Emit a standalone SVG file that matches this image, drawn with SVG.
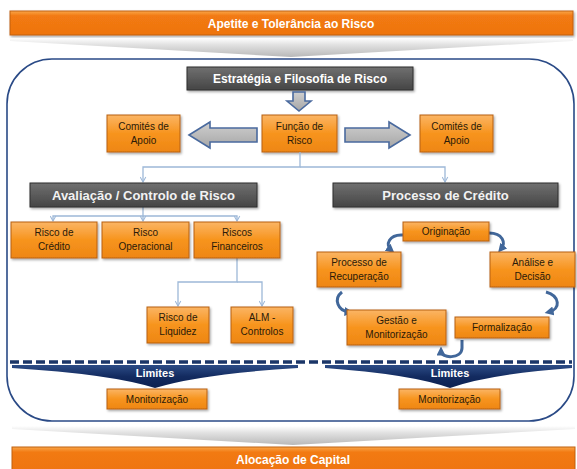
<svg xmlns="http://www.w3.org/2000/svg" width="577" height="469" viewBox="0 0 577 469">
<defs>
<linearGradient id="og" x1="0" y1="0" x2="0" y2="1"><stop offset="0" stop-color="#FBB565"/><stop offset="0.5" stop-color="#F7941D"/><stop offset="1" stop-color="#EE8615"/></linearGradient>
<linearGradient id="bar" x1="0" y1="0" x2="0" y2="1"><stop offset="0" stop-color="#F9A64A"/><stop offset="0.2" stop-color="#F27A12"/><stop offset="1" stop-color="#EE7410"/></linearGradient>
<linearGradient id="gg" x1="0" y1="0" x2="0" y2="1"><stop offset="0" stop-color="#707070"/><stop offset="1" stop-color="#454545"/></linearGradient>
<linearGradient id="chev" x1="0" y1="0" x2="0" y2="1"><stop offset="0" stop-color="#FFFFFF"/><stop offset="0.35" stop-color="#E2E2E2"/><stop offset="1" stop-color="#B8B8B8"/></linearGradient>
<linearGradient id="blk" x1="0" y1="0" x2="0" y2="1"><stop offset="0" stop-color="#CFCFCF"/><stop offset="1" stop-color="#A6A6A6"/></linearGradient>
<linearGradient id="navy" x1="0" y1="0" x2="0" y2="1"><stop offset="0" stop-color="#2C4C86"/><stop offset="0.5" stop-color="#132B60"/><stop offset="1" stop-color="#0C2050"/></linearGradient>
<filter id="sh" x="-10%" y="-10%" width="130%" height="140%"><feDropShadow dx="1.2" dy="1.5" stdDeviation="0.9" flood-color="#000" flood-opacity="0.35"/></filter>
<marker id="ah" viewBox="0 0 10 10" refX="8" refY="5" markerWidth="7" markerHeight="7" markerUnits="userSpaceOnUse" orient="auto"><path d="M1 1 L8 5 L1 9" fill="none" stroke="#9DB8D8" stroke-width="1.5"/></marker>
<marker id="ch" viewBox="0 0 10 10" refX="5" refY="5" markerWidth="9" markerHeight="9" markerUnits="userSpaceOnUse" orient="auto"><path d="M0 0 L10 5 L0 10 Z" fill="#41679A"/></marker>
<style>
.ob{fill:url(#og);stroke:#B8600F;stroke-width:1;filter:url(#sh)}
.gb{fill:url(#gg);stroke:#2E2E2E;stroke-width:1;filter:url(#sh)}
.ot{font-family:"Liberation Sans",Arial,sans-serif;font-size:10px;fill:#2A1A08;text-anchor:middle}
.gt{font-family:"Liberation Sans",Arial,sans-serif;font-size:13px;font-weight:bold;fill:#F2F2F2;text-anchor:middle}
.bt{font-family:"Liberation Sans",Arial,sans-serif;font-size:12px;font-weight:bold;fill:#FFFFFF;text-anchor:middle}
.lt{font-family:"Liberation Sans",Arial,sans-serif;font-size:11px;font-weight:bold;fill:#FFFFFF;text-anchor:middle}
.cn{fill:none;stroke:#9DB8D8;stroke-width:1.3}
.cv{fill:none;stroke:#41679A;stroke-width:3}
.blk{fill:url(#blk);stroke:#4A6A9E;stroke-width:1.6}
</style>
</defs>
<rect width="577" height="469" fill="#FFFFFF"/>

<g id="apetite">
<rect x="10" y="11" width="563" height="24" fill="url(#bar)" stroke="#C0600F" stroke-width="1" filter="url(#sh)"/>
<text class="bt" x="291" y="28">Apetite e Tolerância ao Risco</text>
</g>
<g id="chevron-top"><path d="M10 38 H573 V41 L291 57 L10 41 Z" fill="url(#chev)"/></g>

<g id="frame"><rect x="7" y="59" width="567" height="362" rx="45" ry="45" fill="none" stroke="#2A4A86" stroke-width="1.6"/></g>

<g id="estrategia">
<rect class="gb" x="187" y="67" width="226" height="23"/>
<text class="bt" x="300" y="83" fill="#F2F2F2">Estratégia e Filosofia de Risco</text>
</g>

<g id="block-arrows">
<path class="blk" d="M293 92 H305 V101 H311 L299 111 L287 101 H293 Z"/>
<path class="blk" d="M189 135 L210 122 V128 H257 V142 H210 V148 Z"/>
<path class="blk" d="M410 135 L389 122 V128 H345 V142 H389 V148 Z"/>
</g>

<g id="comites-esq"><rect class="ob" x="107" y="115" width="73" height="37"/><text class="ot" x="143.5" y="130">Comités de</text><text class="ot" x="143.5" y="144">Apoio</text></g>
<g id="funcao"><rect class="ob" x="262" y="115" width="75" height="37"/><text class="ot" x="299.5" y="130">Função de</text><text class="ot" x="299.5" y="144">Risco</text></g>
<g id="comites-dir"><rect class="ob" x="420" y="115" width="73" height="37"/><text class="ot" x="456.5" y="130">Comités de</text><text class="ot" x="456.5" y="144">Apoio</text></g>

<g id="connectors">
<path class="cn" d="M300 152 V167 H143 V182" marker-end="url(#ah)"/>
<path class="cn" d="M300 167 H445 V182" marker-end="url(#ah)"/>
<path class="cn" d="M143 207 V216 H53 V221" marker-end="url(#ah)"/>
<path class="cn" d="M143 216 V221" marker-end="url(#ah)"/>
<path class="cn" d="M143 216 H237 V221" marker-end="url(#ah)"/>
<path class="cn" d="M237 258 V282 H178 V306" marker-end="url(#ah)"/>
<path class="cn" d="M237 282 H262 V306" marker-end="url(#ah)"/>
<path class="cv" d="M403 235 C389 234 385 245 391 250" marker-end="url(#ch)"/>
<path class="cv" d="M489 233 C503 233 506 243 501 249" marker-end="url(#ch)"/>
<path class="cv" d="M546 292 C560 296 561 309 549 312" marker-end="url(#ch)"/>
<path class="cv" d="M342 292 C333 299 338 311 349 312" marker-end="url(#ch)"/>
<path class="cv" d="M462 340 V348 C462 359 441 359 441 351" marker-end="url(#ch)"/>
</g>

<g id="avaliacao"><rect class="gb" x="30" y="183" width="227" height="24"/><text class="gt" x="143.5" y="200">Avaliação / Controlo de Risco</text></g>
<g id="processo-credito"><rect class="gb" x="333" y="183" width="225" height="24"/><text class="gt" x="445.5" y="200">Processo de Crédito</text></g>

<g id="risco-credito"><rect class="ob" x="11" y="222" width="86" height="36"/><text class="ot" x="54" y="236">Risco de</text><text class="ot" x="54" y="250">Crédito</text></g>
<g id="risco-operacional"><rect class="ob" x="102" y="222" width="87" height="36"/><text class="ot" x="145.5" y="236">Risco</text><text class="ot" x="145.5" y="250">Operacional</text></g>
<g id="riscos-financeiros"><rect class="ob" x="194" y="222" width="86" height="36"/><text class="ot" x="237" y="236">Riscos</text><text class="ot" x="237" y="250">Financeiros</text></g>
<g id="risco-liquidez"><rect class="ob" x="147" y="307" width="62" height="36"/><text class="ot" x="178" y="321">Risco de</text><text class="ot" x="178" y="335">Liquidez</text></g>
<g id="alm"><rect class="ob" x="231" y="307" width="62" height="36"/><text class="ot" x="262" y="321">ALM -</text><text class="ot" x="262" y="335">Controlos</text></g>

<g id="originacao"><rect class="ob" x="403" y="222" width="86" height="19"/><text class="ot" x="446" y="235">Originação</text></g>
<g id="recuperacao"><rect class="ob" x="317" y="252" width="84" height="35"/><text class="ot" x="359" y="266">Processo de</text><text class="ot" x="359" y="280">Recuperação</text></g>
<g id="analise"><rect class="ob" x="490" y="252" width="85" height="35"/><text class="ot" x="532.5" y="266">Análise e</text><text class="ot" x="532.5" y="280">Decisão</text></g>
<g id="gestao"><rect class="ob" x="347" y="310" width="99" height="35"/><text class="ot" x="396.5" y="324">Gestão e</text><text class="ot" x="396.5" y="338">Monitorização</text></g>
<g id="formalizacao"><rect class="ob" x="455" y="317" width="94" height="21"/><text class="ot" x="502" y="331">Formalização</text></g>

<g id="dashed"><path d="M10 362 H572" stroke="#1B3668" stroke-width="3.5" stroke-dasharray="9 4" fill="none"/></g>

<g id="limites-esq">
<path d="M12 365 H298 V368 Q200 374 155 388 Q110 374 12 368 Z" fill="url(#navy)"/>
<text class="lt" x="155" y="377">Limites</text>
</g>
<g id="limites-dir">
<path d="M325 365 H572 V368 Q490 374 450 388 Q410 374 325 368 Z" fill="url(#navy)"/>
<text class="lt" x="450" y="377">Limites</text>
</g>

<g id="monit-esq"><rect class="ob" x="107" y="389" width="100" height="20"/><text class="ot" x="157" y="403">Monitorização</text></g>
<g id="monit-dir"><rect class="ob" x="399" y="389" width="101" height="20"/><text class="ot" x="449.5" y="403">Monitorização</text></g>

<g id="chevron-bottom"><path d="M12 426 H575 V429 L293 445 L12 429 Z" fill="url(#chev)"/></g>
<g id="alocacao">
<rect x="12" y="447" width="563" height="26" fill="url(#bar)" stroke="#C0600F" stroke-width="1"/>
<text class="bt" x="293" y="464" font-size="13">Alocação de Capital</text>
</g>
</svg>
